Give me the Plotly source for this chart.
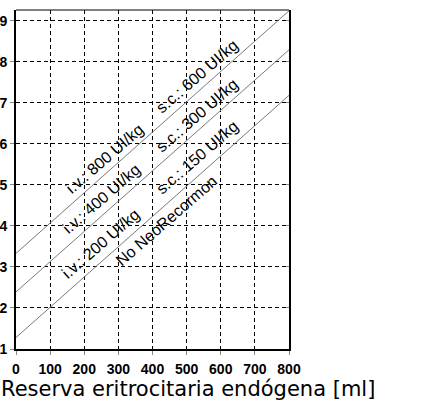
import plotly.graph_objects as go

# ---- data ----
x_ends = [0, 800]
line_low = [1.28, 7.18]    # No NeoRecormon / i.v. 200 / s.c. 150
line_mid = [2.39, 8.29]    # i.v. 400 / s.c. 300
line_high = [3.33, 9.24]   # i.v. 800 / s.c. 600

label_texts = ["i.v.: 800 UI/kg", "i.v.: 400 UI/kg", "i.v.: 200 UI/kg",
               "No NeoRecormon", "s.c.: 600 UI/kg", "s.c.: 300 UI/kg",
               "s.c.: 150 UI/kg"]
label_x = [260, 251, 248, 441, 530, 530, 530]
label_y = [5.65, 4.67, 3.58, 4.14, 7.64, 6.69, 5.67]

x_ticks = [0, 100, 200, 300, 400, 500, 600, 700, 800]
y_ticks = [1, 2, 3, 4, 5, 6, 7, 8, 9]
x_title = "Reserva eritrocitaria endógena [ml]"

fig = go.Figure()
for ys in (line_low, line_mid, line_high):
    fig.add_trace(go.Scatter(x=x_ends, y=ys, mode="lines",
                             line=dict(color="#7a7a7a", width=1),
                             showlegend=False, hoverinfo="skip"))
# invisible trace for the right-hand inner tick axis
fig.add_trace(go.Scatter(x=[0], y=[1], yaxis="y2", mode="markers",
                         marker=dict(opacity=0), showlegend=False,
                         hoverinfo="skip"))

for t, x, y in zip(label_texts, label_x, label_y):
    fig.add_annotation(x=x, y=y, text=t, showarrow=False, textangle=-41,
                       font=dict(family="Liberation Sans, Arial", size=16,
                                 color="black"))

fig.add_annotation(xref="paper", yref="paper", x=-0.0586, y=-0.1563,
                   xanchor="left", yanchor="bottom", text=x_title,
                   showarrow=False, borderpad=0,
                   font=dict(family="DejaVu Sans", size=21, color="black"))

tickfont = dict(family="Liberation Sans, Arial", size=14, color="black",
                weight="bold")

fig.update_layout(
    width=427, height=402,
    margin=dict(l=16, r=138, t=10, b=53, autoexpand=False),
    paper_bgcolor="white", plot_bgcolor="white",
    xaxis=dict(range=[0, 800], tickvals=x_ticks, showgrid=True,
               gridcolor="black", gridwidth=1, griddash="4px,3px",
               zeroline=False, showline=True, linecolor="black",
               linewidth=2, ticks="outside", ticklen=4, tickcolor="#888",
               tickwidth=1, tickfont=tickfont, ticklabelstandoff=2,
               automargin=False),
    yaxis=dict(range=[1, 9.26], tickvals=y_ticks, showgrid=True,
               gridcolor="black", gridwidth=1, griddash="4px,3px",
               zeroline=False, showline=True, linecolor="black",
               linewidth=2, ticks="outside", ticklen=4, tickcolor="#888",
               tickwidth=1, tickfont=tickfont, automargin=False),
    yaxis2=dict(range=[1, 9.26], tickvals=y_ticks, overlaying="y",
                side="right", showgrid=False, zeroline=False,
                showline=True, linecolor="black", linewidth=2,
                ticks="inside", ticklen=3, tickcolor="#888",
                showticklabels=False, automargin=False),
    shapes=[dict(type="line", xref="paper", yref="paper", x0=0, x1=1,
                 y0=1, y1=1, line=dict(color="black", width=1))],
)

fig.write_html("out.html", config={"displayModeBar": False},
               post_script="document.body.style.margin='0';"
                           "document.body.style.padding='0';")
